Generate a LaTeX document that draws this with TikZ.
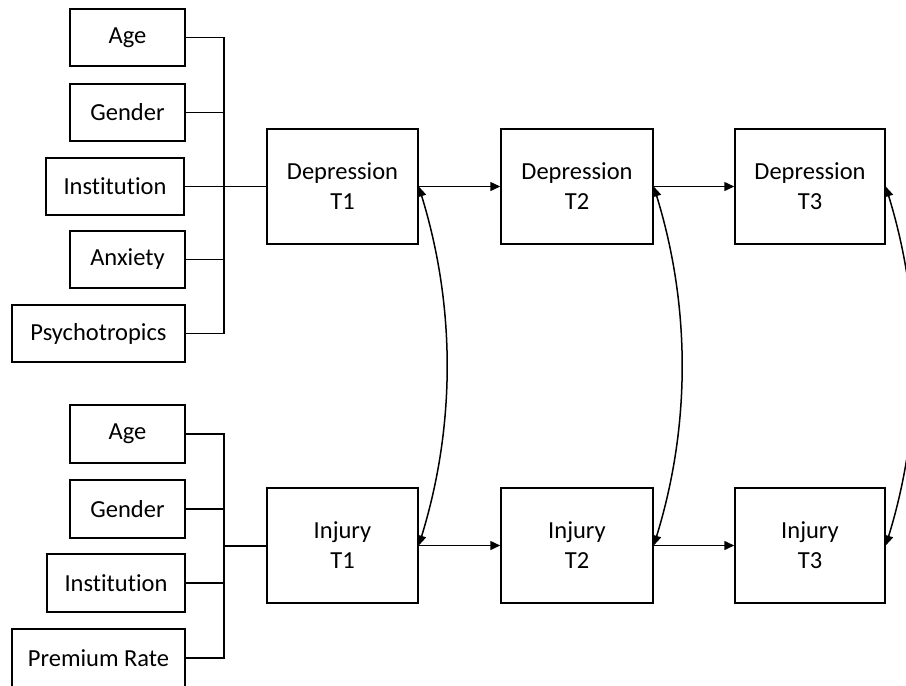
\documentclass[tikz,border=0pt]{standalone}
\usepackage{fontspec}
\setmainfont{Carlito}[Ligatures=NoCommon]
\usetikzlibrary{arrows.meta}
\begin{document}
\begin{tikzpicture}[x=1pt,y=-1pt,
  box/.style={draw=black,line width=1.5pt,inner sep=0pt,align=center,
    font=\fontsize{24.5}{30}\selectfont},
  cov/.style={minimum height=57pt},
  wire/.style={draw=black,line width=1.5pt},
  arr/.style={wire,-{Triangle[length=10pt,width=9pt]}},
  darr/.style={wire,{Triangle[length=10pt,width=9pt]}-{Triangle[length=10pt,width=9pt]}}]
\useasboundingbox (0,0) rectangle (906,686);
% top covariates
\node[box,cov,minimum width=115pt] (a1) at (127.5,37.5) {Age};
\node[box,cov,minimum width=115pt] (g1) at (127.5,112.5) {Gender};
\node[box,cov,minimum width=138pt] (in1) at (115,186.5) {Institution};
\node[box,cov,minimum width=115pt] (an1) at (127.5,259.5) {Anxiety};
\node[box,cov,minimum width=173pt] (p1) at (98.5,333.5) {Psychotropics};
% bottom covariates
\node[box,cov,minimum width=115pt,minimum height=58pt] (a2) at (127.5,434) {Age};
\node[box,cov,minimum width=115pt,minimum height=58pt] (g2) at (127.5,509) {Gender};
\node[box,cov,minimum width=138pt,minimum height=58pt] (in2) at (116,583) {Institution};
\node[box,cov,minimum width=173pt,minimum height=58pt] (pr) at (98.5,658) {Premium Rate};
% main boxes
\node[box,minimum width=151pt,minimum height=115pt] (d1) at (342.5,186.5) {Depression\\T1};
\node[box,minimum width=152pt,minimum height=115pt] (d2) at (577,186.5) {Depression\\T2};
\node[box,minimum width=150pt,minimum height=115pt] (d3) at (810,186.5) {Depression\\T3};
\node[box,minimum width=151pt,minimum height=115pt] (j1) at (342.5,545.5) {Injury\\T1};
\node[box,minimum width=152pt,minimum height=115pt] (j2) at (577,545.5) {Injury\\T2};
\node[box,minimum width=150pt,minimum height=115pt] (j3) at (810,545.5) {Injury\\T3};
% junctions
\coordinate (jt) at (224,186.5);
\coordinate (jb) at (224,546);
% top bracket
\draw[wire] (a1.east) -| (jt) |- (p1.east);
\draw[wire] (g1.east) -- (g1.east -| jt);
\draw[wire] (an1.east) -- (an1.east -| jt);
\draw[wire] (in1.east) -- (d1.west);
% bottom bracket
\draw[wire] (a2.east) -| (jb) |- (pr.east);
\draw[wire] (g2.east) -- (g2.east -| jb);
\draw[wire] (in2.east) -- (in2.east -| jb);
\draw[wire] (jb) -- (jb -| j1.west);
% paths
\draw[arr] (d1.east) -- (d2.west);
\draw[arr] (d2.east) -- (d3.west);
\draw[arr] (j1.east) -- (j2.west);
\draw[arr] (j2.east) -- (j3.west);
% covariances
\draw[darr] (d1.east) .. controls +(37,120) and +(37,-120) .. (j1.east);
\draw[darr] (d2.east) .. controls +(37,120) and +(37,-120) .. (j2.east);
\draw[darr] (d3.east) .. controls +(37,120) and +(37,-120) .. (j3.east);
\end{tikzpicture}
\end{document}
